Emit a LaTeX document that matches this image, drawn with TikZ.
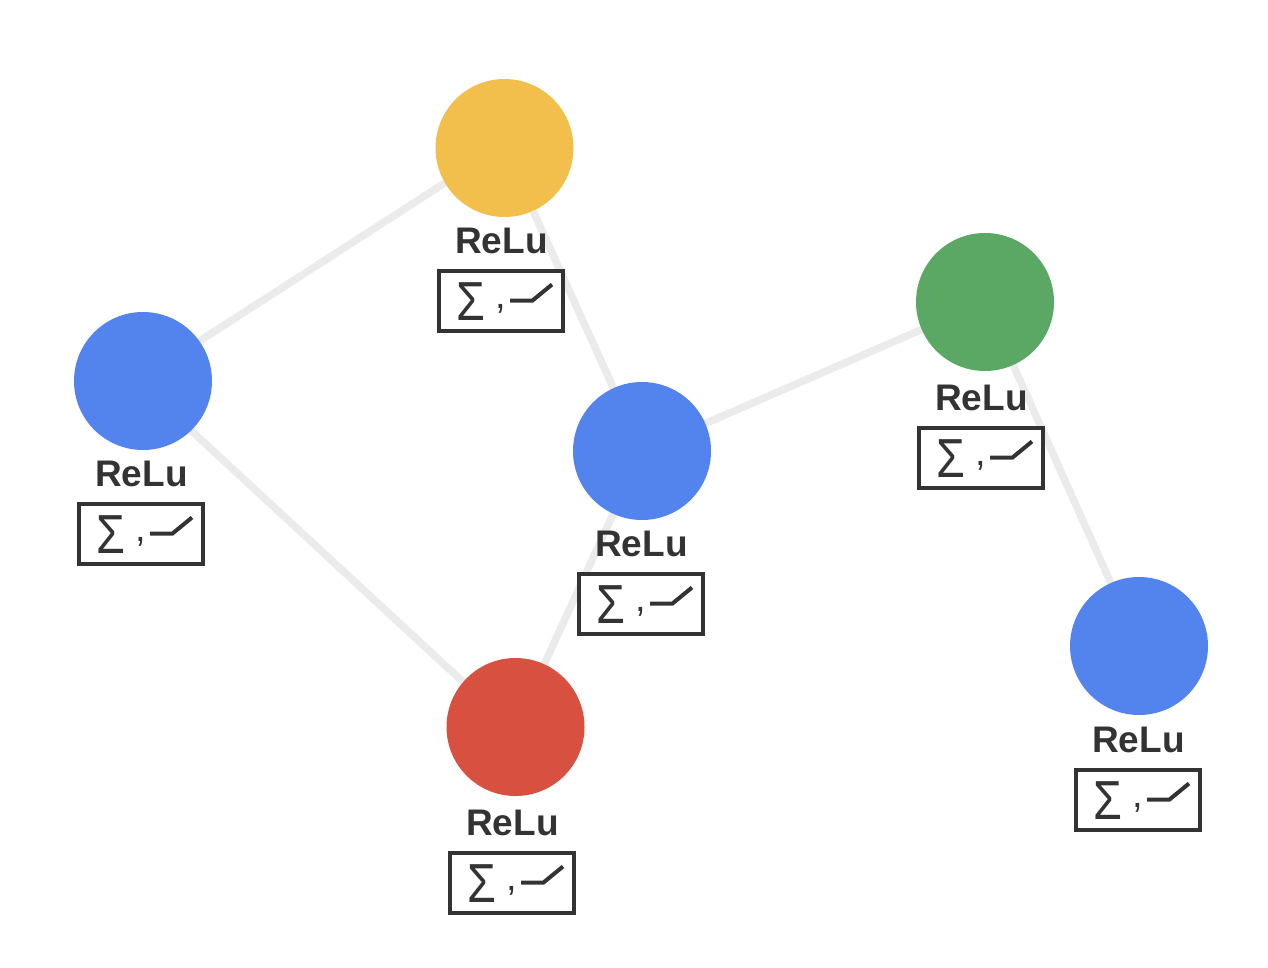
\documentclass[tikz,border=0pt]{standalone}
\usepackage{fontspec}
\setmainfont{Liberation Sans}
\usetikzlibrary{backgrounds}
\definecolor{nblue}{HTML}{5383EC}
\definecolor{nyellow}{HTML}{F2BF4C}
\definecolor{ngreen}{HTML}{5AA864}
\definecolor{nred}{HTML}{D85040}
\definecolor{edgegray}{HTML}{EBEBEB}
\definecolor{ink}{HTML}{333333}
\tikzset{
  x=1pt,y=-1pt,
  neuron/.style={circle,minimum size=138pt,inner sep=0pt,fill=#1},
  edgeline/.style={draw=edgegray,line width=7.5pt},
  relu/.style={font=\fontsize{37}{37}\selectfont\bfseries,text=ink,inner sep=0pt},
  formula/.style={draw=ink,line width=4pt,fill=white,minimum width=124.5pt,minimum height=60pt,inner sep=0pt},
  sigmaglyph/.style={font=\fontsize{55}{55}\selectfont,text=ink,inner sep=0pt,xscale=0.85},
  commaglyph/.style={font=\fontsize{38}{38}\selectfont,text=ink,inner sep=0pt},
  ramp/.style={draw=ink,line width=4pt}
}
\newcommand{\unitgroup}[6]{%
  % name, colour, circle x, circle y, box x, box y
  \node[neuron=#2] (#1) at (#3,#4) {};
  \node[relu] (#1l) at (#5,#6-59.5) {ReLu};
  \node[formula] (#1b) at (#5-0.3,#6) {};
  \node[sigmaglyph] (#1s) at (#5-30.5,#6+1) {Σ};
  \node[commaglyph] (#1c) at (#5-1,#6+8) {,};
  \draw[ramp] (#5+8.5,#6) -- (#5+31,#6) -- (#5+50.5,#6-16);
}
\begin{document}
\begin{tikzpicture}
\useasboundingbox (0,0) rectangle (1268,968);
\unitgroup{a}{nblue}{143}{381}{141.5}{533.5}
\unitgroup{b}{nyellow}{504.5}{148}{501.5}{300.5}
\unitgroup{c}{nblue}{642}{451}{641.5}{603.5}
\unitgroup{d}{ngreen}{985}{302}{981.5}{457.5}
\unitgroup{e}{nred}{515.5}{727}{512.5}{882.5}
\unitgroup{f}{nblue}{1139}{646}{1138.5}{799.5}
\begin{scope}[on background layer]
\draw[edgeline] ([yshift=3.5pt]a.center) -- ([yshift=3.5pt]b.center);
\draw[edgeline] ([yshift=-5pt]a.center) -- ([yshift=-3.5pt]e.center);
\draw[edgeline] (b) -- (c);
\draw[edgeline] (c) -- (d);
\draw[edgeline] (c) -- (e);
\draw[edgeline] (d) -- (f);
\end{scope}
\end{tikzpicture}
\end{document}
